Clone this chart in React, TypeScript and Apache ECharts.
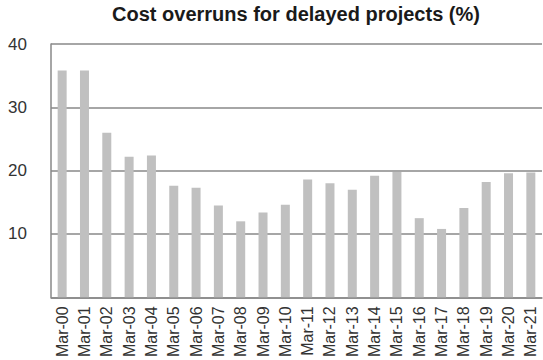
import React, { useEffect, useRef } from "react";
import * as echarts from "echarts";

const categories = [
  "Mar-00", "Mar-01", "Mar-02", "Mar-03", "Mar-04", "Mar-05", "Mar-06", "Mar-07",
  "Mar-08", "Mar-09", "Mar-10", "Mar-11", "Mar-12", "Mar-13", "Mar-14", "Mar-15",
  "Mar-16", "Mar-17", "Mar-18", "Mar-19", "Mar-20", "Mar-21",
];
const overruns = [
  35.8, 35.8, 26.0, 22.2, 22.4, 17.6, 17.3, 14.5, 12.0, 13.4, 14.6,
  18.6, 18.0, 17.0, 19.2, 19.8, 12.5, 10.8, 14.1, 18.2, 19.6, 19.7,
];
const titleText = "Cost overruns for delayed projects (%)";

export default function App() {
  const ref = useRef<HTMLDivElement>(null);
  useEffect(() => {
    if (!ref.current) return;
    const chart = echarts.init(ref.current, undefined, { renderer: "svg" });
    chart.setOption({
      animation: false,
      backgroundColor: "#ffffff",
      title: {
        text: titleText,
        left: 291,
        textAlign: "center",
        top: -1,
        textStyle: {
          fontFamily: "Liberation Sans, Arial, sans-serif",
          fontWeight: "bold",
          fontSize: 20,
          color: "#1a1a1a",
        },
      },
      grid: { left: 51, right: 1, top: 44, bottom: 61, containLabel: false },
      xAxis: {
        type: "category",
        data: categories,
        boundaryGap: true,
        axisLine: { show: true, lineStyle: { color: "#888888", width: 1.5 } },
        axisTick: { show: false },
        axisLabel: {
          rotate: 90,
          interval: 0,
          margin: 9,
          fontFamily: "Liberation Sans, Arial, sans-serif",
          fontSize: 16,
          color: "#333333",
        },
      },
      yAxis: {
        type: "value",
        min: 0,
        max: 40,
        interval: 10,
        axisLine: { show: true, lineStyle: { color: "#888888", width: 1.5 } },
        axisTick: { show: false },
        splitLine: { show: true, lineStyle: { color: "#888888", width: 1.5 } },
        axisLabel: {
          margin: 43,
          align: "left",
          formatter: (v: number) => (v === 0 ? "" : String(v)),
          fontFamily: "Liberation Sans, Arial, sans-serif",
          fontSize: 17,
          color: "#333333",
        },
      },
      series: [
        {
          type: "bar",
          data: overruns,
          barWidth: 9,
          itemStyle: { color: "#c0c0c0" },
        },
      ],
    });
    return () => chart.dispose();
  }, []);
  return <div ref={ref} style={{ width: 543, height: 360, position: "fixed", left: 0, top: 0 }} />;
}
